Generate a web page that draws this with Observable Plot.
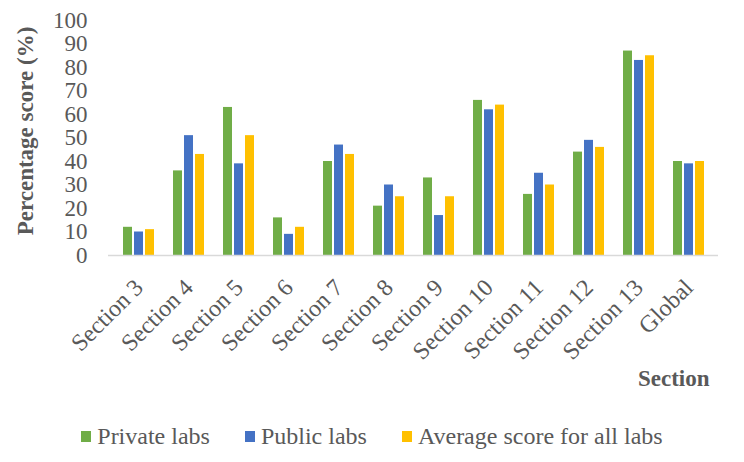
<!DOCTYPE html>
<html><head><meta charset="utf-8">
<script src="https://cdn.jsdelivr.net/npm/d3@7"></script>
<script src="https://cdn.jsdelivr.net/npm/@observablehq/plot@0.6"></script>
<style>
body{margin:0;background:#fff;font-family:"Liberation Serif","Times New Roman",serif;}
#legend{display:flex;justify-content:center;gap:35px;height:52px;align-items:center;font-size:24px;color:#595959;padding-left:0px;}
.item{display:flex;align-items:center;gap:6px}
.sw{width:10px;height:11px;display:inline-block}
g[aria-label^="y-axis"] text, g[aria-label^="y-axis"]{font-size:23px;}
</style></head><body><div id="chart"></div><div id="legend"></div>
<script>
const sections = ["Section 3","Section 4","Section 5","Section 6","Section 7","Section 8","Section 9","Section 10","Section 11","Section 12","Section 13","Global"];
const seriesNames = ["Private labs","Public labs","Average score for all labs"];
const privateLabs = [12,36,63,16,40,21,33,66,26,44,87,40];
const publicLabs  = [10,51,39,9,47,30,17,62,35,49,83,39];
const averageAll  = [11,43,51,12,43,25,25,64,30,46,85,40];
const seriesColors = ["#70AD47","#4472C4","#FFC000"];
const yTicks = [0,10,20,30,40,50,60,70,80,90,100];

const seriesValues = [privateLabs, publicLabs, averageAll];
const rows = [];
seriesNames.forEach((s, i) => sections.forEach((sec, j) => rows.push({section: sec, series: s, value: seriesValues[i][j]})));

const barW = 11;
const marks = [];
seriesNames.forEach((s, i) => {
  marks.push(Plot.barY(rows.filter(r => r.series === s), {
    x: "section", y: "value", fill: "series",
    insetLeft: i * barW, insetRight: (2 - i) * barW
  }));
});
marks.push(Plot.ruleY([0], {stroke: "#d9d9d9", strokeWidth: 1.5}));
marks.push(Plot.text(["Percentage score (%)"], {frameAnchor: "left", rotate: -90, dx: -83, dy: -7, textAnchor: "middle", fontWeight: "bold", fontSize: 23}));
marks.push(Plot.text(["Section"], {frameAnchor: "bottom-right", dx: -9, dy: 130, textAnchor: "end", fontWeight: "bold", fontSize: 23}));

const chart = Plot.plot({
  width: 744, height: 410,
  marginTop: 20, marginBottom: 155, marginLeft: 108, marginRight: 26,
  style: {fontSize: "24px", fontFamily: "'Liberation Serif', 'Times New Roman', serif", color: "#595959", background: "#fff"},
  x: {domain: sections, paddingInner: 0.39, paddingOuter: 0.2, tickRotate: -45, tickSize: 0, tickPadding: 28, label: null},
  y: {domain: [0, 100], ticks: yTicks, tickSize: 0, tickPadding: 21, label: null},
  color: {domain: seriesNames, range: seriesColors},
  marks
});
document.getElementById("chart").appendChild(chart);

const legend = document.getElementById("legend");
seriesNames.forEach((s, i) => {
  const it = document.createElement("div"); it.className = "item";
  const sw = document.createElement("span"); sw.className = "sw"; sw.style.background = seriesColors[i];
  const tx = document.createElement("span"); tx.textContent = s;
  it.appendChild(sw); it.appendChild(tx); legend.appendChild(it);
});
</script></body></html>
